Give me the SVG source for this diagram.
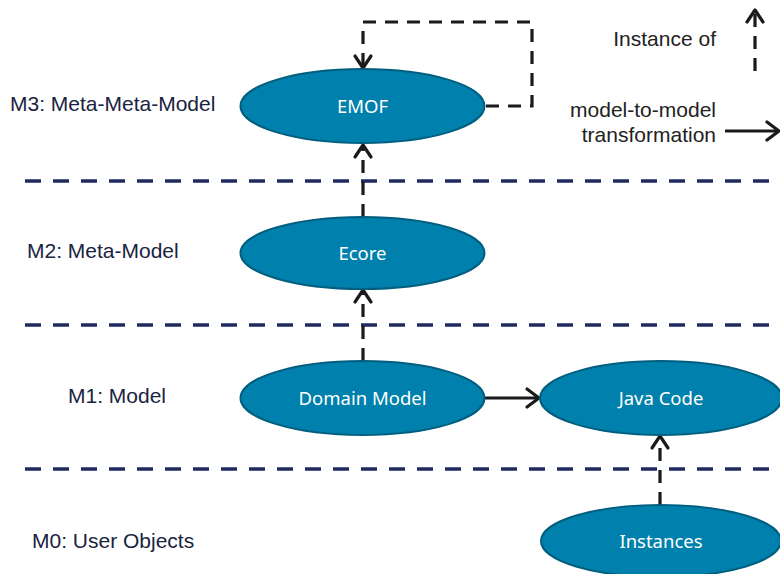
<svg xmlns="http://www.w3.org/2000/svg" width="780" height="574" viewBox="0 0 780 574">
<style>
.lvl{fill:none;stroke:#1f2a5e;stroke-width:3.5;stroke-dasharray:16 12}
.node ellipse{fill:#0080ac;stroke:#005e7e;stroke-width:2}
.node text{fill:#ffffff;font-family:"Noto Sans","Open Sans",sans-serif;font-size:18.5px;text-anchor:middle}
.lab{fill:#1a2340;font-family:"Liberation Sans",Arial,sans-serif;font-size:21px}
.leg{fill:#222;font-family:"Liberation Sans",Arial,sans-serif;font-size:21px;text-anchor:end}
.dash{fill:none;stroke:#1a1a1a;stroke-width:3.2;stroke-dasharray:13 9}
.solid{fill:none;stroke:#1a1a1a;stroke-width:3.2}
.head{fill:none;stroke:#1a1a1a;stroke-width:3.2;stroke-linecap:round;stroke-linejoin:round}
</style>
<rect width="780" height="574" fill="#ffffff"/>
<g id="levels">
<line class="lvl" x1="25" y1="181" x2="780" y2="181"/>
<line class="lvl" x1="25" y1="325" x2="780" y2="325"/>
<line class="lvl" x1="25" y1="469" x2="780" y2="469"/>
<text class="lab" x="10" y="111">M3: Meta-Meta-Model</text>
<text class="lab" x="27" y="258">M2: Meta-Model</text>
<text class="lab" x="68" y="403">M1: Model</text>
<text class="lab" x="32" y="548">M0: User Objects</text>
</g>
<g id="connectors">
<path class="dash" d="M486,106 H532 V22 H363 V66"/>
<path class="head" d="M355,56 L363,68 L371,56"/>
<path class="dash" d="M363,217 V147"/>
<path class="head" d="M355,157 L363,145 L371,157"/>
<path class="dash" d="M363,361 V292"/>
<path class="head" d="M355,302 L363,290 L371,302"/>
<path class="dash" d="M660,505 V438"/>
<path class="head" d="M652,448 L660,436 L668,448"/>
<path class="solid" d="M485,398 H537"/>
<path class="head" d="M527,389 L539,398 L527,407"/>
</g>
<g id="emof" class="node"><ellipse cx="362.5" cy="106" rx="122" ry="37"/><text x="362.5" y="112.5">EMOF</text></g>
<g id="ecore" class="node"><ellipse cx="362.5" cy="253" rx="122" ry="36"/><text x="362.5" y="259.5">Ecore</text></g>
<g id="domain" class="node"><ellipse cx="362.5" cy="398" rx="122" ry="37"/><text x="362.5" y="404.5">Domain Model</text></g>
<g id="java" class="node"><ellipse cx="661" cy="398" rx="121" ry="37"/><text x="661" y="404.5">Java Code</text></g>
<g id="instances" class="node"><ellipse cx="661" cy="541" rx="120" ry="36"/><text x="661" y="547.5">Instances</text></g>
<g id="legend">
<text class="leg" x="716" y="46">Instance of</text>
<path class="dash" d="M755,71 V12"/>
<path class="head" d="M747,22 L755,10 L763,22"/>
<text class="leg" x="716" y="117">model-to-model</text>
<text class="leg" x="716" y="142">transformation</text>
<path class="solid" d="M725,131 H777"/>
<path class="head" d="M767,122 L779,131 L767,140"/>
</g>
</svg>
